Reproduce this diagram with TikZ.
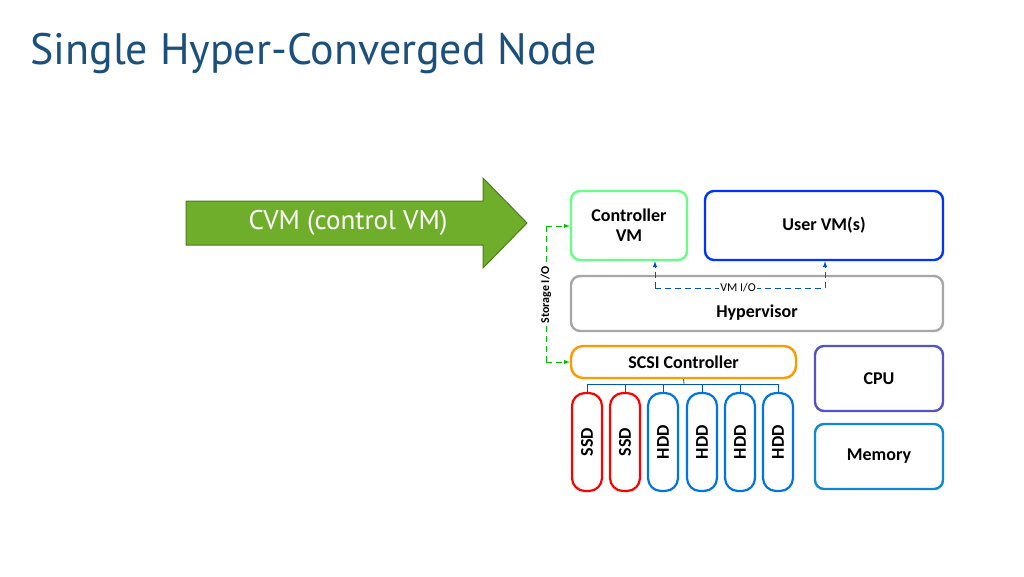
\documentclass[tikz,border=0pt]{standalone}
\usepackage{fontspec}
\setmainfont{PT Sans}
\newfontfamily\carl{Carlito}
\definecolor{ttl}{HTML}{1B4F7C}
\definecolor{arr}{HTML}{6FAE2A}
\begin{document}
\begin{tikzpicture}[x=1pt,y=-1pt,
 box/.style={draw=#1,line width=2.4pt,rounded corners=9pt,fill=white,font=\carl\bfseries\fontsize{18}{20}\selectfont,align=center,inner sep=0pt},
 disk/.style={draw=#1,line width=2.2pt,rounded corners=13pt,fill=white,minimum width=30pt,minimum height=98pt,font=\carl\bfseries\fontsize{18}{20}\selectfont,inner sep=0pt},
 bus/.style={draw=blue!60!cyan!80!black,line width=0.8pt}]
\useasboundingbox (0,0) rectangle (1024,576);
\node[anchor=base west,text=ttl,font=\fontsize{44}{50}\selectfont,inner sep=0pt] (title) at (30,64) {Single Hyper-Converged Node};
% arrow
\draw[fill=arr,draw=arr!70!black,line width=1pt] (186,201) -- (483,201) -- (483,178) -- (527,223) -- (483,268) -- (483,245) -- (186,245) -- cycle;
\node[text=white,font=\fontsize{27}{30}\selectfont] (cvm) at (348,223) {CVM (control VM)};
% boxes
\node[box=green!80!cyan!60,minimum width=116pt,minimum height=69pt] (ctl) at (629,225.5) {Controller\\VM};
\node[box=blue!80!cyan,minimum width=238pt,minimum height=69pt] (user) at (824,225.5) {User VM(s)};
\node[box=gray!70,minimum width=372pt,minimum height=55pt] (hyp) at (757,303.5) {};
\node[font=\carl\bfseries\fontsize{18}{20}\selectfont] (hyplab) at (757,313) {Hypervisor};
\node[box=orange!80!yellow,minimum width=225pt,minimum height=32pt,rounded corners=12pt] (scsi) at (683.5,362) {SCSI Controller};
\node[box=blue!50!gray!90,minimum width=128pt,minimum height=65pt] (cpu) at (879,378.5) {CPU};
\node[box=cyan!70!blue,minimum width=128pt,minimum height=65pt] (mem) at (879,456.5) {Memory};
% disks
\foreach \n/\x/\c/\t in {d1/587/red/SSD,d2/625/red/SSD,d3/663/blue!50!cyan!90!black/HDD,d4/702/blue!50!cyan!90!black/HDD,d5/740/blue!50!cyan!90!black/HDD,d6/778/blue!50!cyan!90!black/HDD}{
 \node[disk=\c] (\n) at (\x,442) {\rotatebox{90}{\t}};
}
\coordinate (busc) at (684,384);
\draw[bus] (scsi.south) -- (busc);
\draw[bus] (d1.north) -- (d1.north |- busc) -- (d6.north |- busc) -- (d6.north);
\foreach \n in {d2,d3,d4,d5}{\draw[bus] (\n.north) -- (\n.north |- busc);}
% VM I/O
\coordinate (v1) at (655,288); \coordinate (v2) at (825,288);
\draw[blue!60!cyan!80!black,line width=1pt,dash pattern=on 6pt off 4pt,-latex] (v1) -- (v1 |- ctl.south);
\draw[blue!60!cyan!80!black,line width=1pt,dash pattern=on 6pt off 4pt,-latex] (v2) -- (v2 |- user.south);
\draw[blue!60!cyan!80!black,line width=1pt,dash pattern=on 6pt off 4pt] (v1) -- (v2);
\node[fill=white,inner sep=1pt,font=\carl\fontsize{12}{13}\selectfont] (vmio) at (738,288) {VM I/O};
% Storage I/O
\coordinate (s1) at (546,226); \coordinate (s2) at (546,362);
\draw[green!75!black,line width=1pt,dash pattern=on 6pt off 4pt,-latex] (s1) -- (ctl.west |- s1);
\draw[green!75!black,line width=1pt,dash pattern=on 6pt off 4pt,-latex] (s2) -- (scsi.west |- s2);
\draw[green!75!black,line width=1pt,dash pattern=on 6pt off 4pt] (s1) -- (s2);
\node[fill=white,inner sep=1pt,rotate=90,font=\carl\bfseries\fontsize{12}{13}\selectfont] (sio) at (546,295) {Storage I/O};
\end{tikzpicture}
\end{document}
